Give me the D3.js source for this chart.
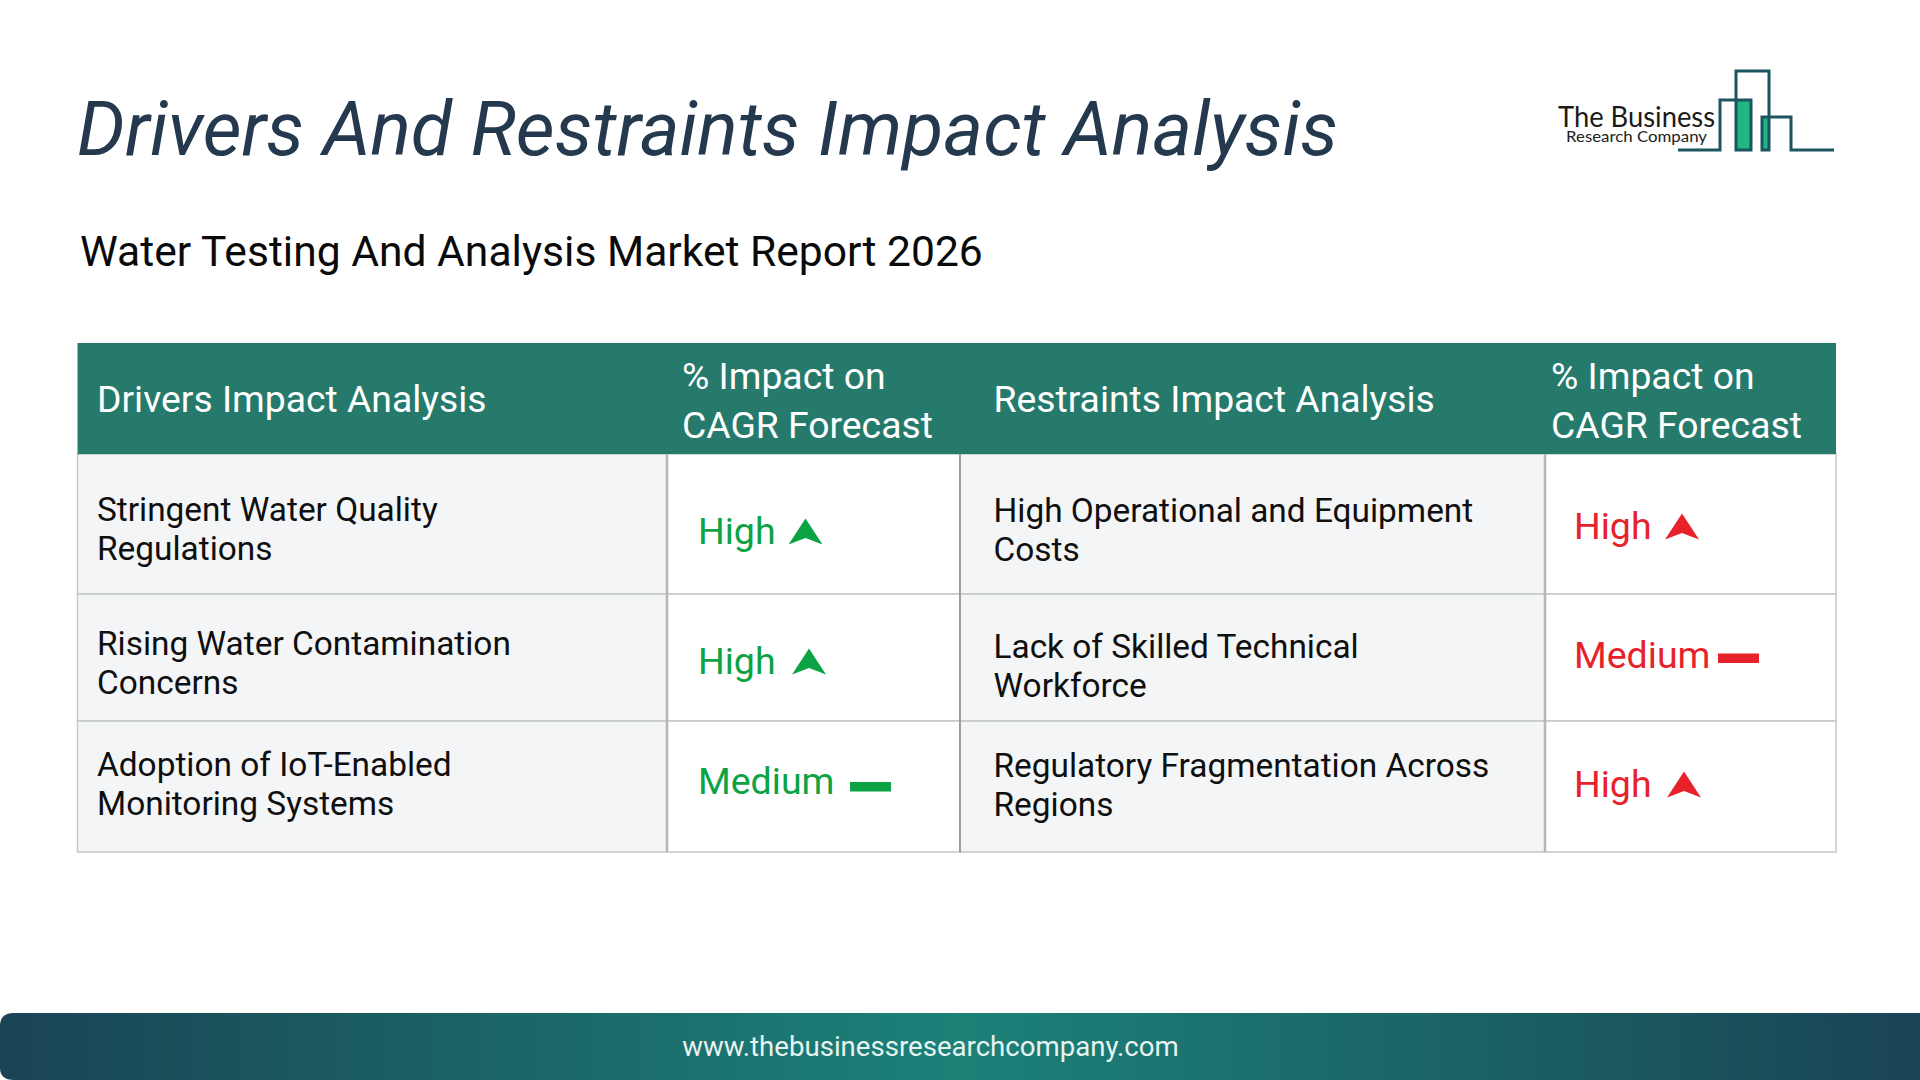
<!DOCTYPE html>
<html>
<head>
<meta charset="utf-8">
<script src="https://cdn.jsdelivr.net/npm/d3@7"></script>
<style>
  html, body { margin: 0; padding: 0; background: #fff; }
  svg { display: block; }
  text { font-family: Roboto, sans-serif; }
</style>
</head>
<body>
<div id="chart"></div>
<script>
// table content
const headers = [["Drivers Impact Analysis"], ["% Impact on", "CAGR Forecast"], ["Restraints Impact Analysis"], ["% Impact on", "CAGR Forecast"]];
const drivers = [["Stringent Water Quality", "Regulations"], ["Rising Water Contamination", "Concerns"], ["Adoption of IoT-Enabled", "Monitoring Systems"]];
const driverImpact = ["High", "High", "Medium"];
const restraints = [["High Operational and Equipment", "Costs"], ["Lack of Skilled Technical", "Workforce"], ["Regulatory Fragmentation Across", "Regions"]];
const restraintImpact = ["High", "Medium", "High"];

// layout
const width = 1920, height = 1080;
const colEdges = [77.5, 667, 960, 1545, 1836];
const rowEdges = [343, 454, 594, 721, 852];
const labelBase = [[521, 655, 776], [522, 658, 777]];
const labelX = [97, 993.5];
const headX = [97, 682, 993.5, 1551];
const impactX = [698, 1574];
const impactBase = [[544, 674, 793.5], [539, 668, 797]];
const arrowX = [[805.5, 809, 0], [1682, 0, 1684]];
const barX = [[0, 0, 850], [0, 1718, 0]];
const barTop = [[0, 0, 782], [0, 653.5, 0]];
const lineGap = 39;

const green = "#0ba344", red = "#e8222b";

const svg = d3.select("#chart").append("svg").attr("width", width).attr("height", height);
const defs = svg.append("defs");
const grad = defs.append("linearGradient").attr("id", "footerGrad");
grad.append("stop").attr("offset", "0%").attr("stop-color", "#1a4454");
grad.append("stop").attr("offset", "50%").attr("stop-color", "#1b8278");
grad.append("stop").attr("offset", "100%").attr("stop-color", "#1a4454");

svg.append("rect").attr("width", width).attr("height", height).attr("fill", "#fff");

// title
svg.append("text").text("Drivers And Restraints Impact Analysis")
  .attr("x", 77).attr("y", 155)
  .style("font-size", "75.5px").style("font-style", "italic").style("fill", "#24394e");
svg.append("text").text("Water Testing And Analysis Market Report 2026")
  .attr("x", 80).attr("y", 266)
  .style("font-size", "42.6px").style("fill", "#0a0a0a");

// logo
const logo = svg.append("g");
const logoColor = "#1c5560";
logo.append("rect").attr("x", 1736).attr("y", 100).attr("width", 15).attr("height", 50).attr("fill", "#22b684");
logo.append("rect").attr("x", 1762).attr("y", 117).attr("width", 7).attr("height", 33).attr("fill", "#22b684");
const logoLine = d3.line();
logo.append("path")
  .attr("d", logoLine([[1678, 150], [1720, 150], [1720, 100], [1751, 100], [1751, 150], [1736, 150], [1736, 71], [1769, 71], [1769, 150], [1762, 150], [1762, 117], [1791, 117], [1791, 150], [1834, 150]]))
  .attr("fill", "none").attr("stroke", logoColor).attr("stroke-width", 3);
logo.append("text").text("The Business").attr("x", 1558).attr("y", 127)
  .style("font-family", "Lato, sans-serif").style("font-weight", 400).style("font-size", "28px").style("fill", "#1a1a1a")
  .attr("textLength", 157).attr("lengthAdjust", "spacingAndGlyphs");
logo.append("text").text("Research Company").attr("x", 1566).attr("y", 142)
  .style("font-family", "Lato, sans-serif").style("font-weight", 400).style("font-size", "15px").style("fill", "#222")
  .attr("textLength", 141).attr("lengthAdjust", "spacingAndGlyphs");

// table body
const cols = d3.range(4), rows = d3.range(3);
const body = svg.append("g");
rows.forEach(r => {
  cols.forEach(c => {
    body.append("rect")
      .attr("x", colEdges[c]).attr("y", rowEdges[r + 1])
      .attr("width", colEdges[c + 1] - colEdges[c])
      .attr("height", rowEdges[r + 2] - rowEdges[r + 1])
      .attr("fill", c % 2 === 0 ? "#f3f5f7" : "#fff")
      .attr("stroke", "#c4c6c8").attr("stroke-width", 1.5);
  });
});
// darker edges on either side of the impact columns
[1, 3].forEach(i => {
  body.append("line").attr("x1", colEdges[i]).attr("x2", colEdges[i])
    .attr("y1", rowEdges[1]).attr("y2", rowEdges[4])
    .attr("stroke", "#b4b6b8").attr("stroke-width", 2.5);
});
body.append("line").attr("x1", colEdges[2]).attr("x2", colEdges[2])
  .attr("y1", rowEdges[1]).attr("y2", rowEdges[4])
  .attr("stroke", "#77797b").attr("stroke-width", 1.2);

// header
svg.append("rect").attr("x", colEdges[0]).attr("y", rowEdges[0])
  .attr("width", colEdges[4] - colEdges[0]).attr("height", rowEdges[1] - rowEdges[0])
  .attr("fill", "#257a6b");
headers.forEach((lines, c) => {
  lines.forEach((t, j) => {
    svg.append("text").text(t)
      .attr("x", headX[c])
      .attr("y", lines.length === 1 ? 412 : 389 + j * 48.5)
      .style("font-size", "37.3px").style("fill", "#fff");
  });
});

// labels
[drivers, restraints].forEach((labels, k) => {
  labels.forEach((lines, r) => {
    lines.forEach((t, j) => {
      svg.append("text").text(t)
        .attr("x", labelX[k]).attr("y", labelBase[k][r] + j * lineGap)
        .style("font-size", "33.4px").style("fill", "#0f0f0f");
    });
  });
});

// impact cells
const arrow = d3.line();
[driverImpact, restraintImpact].forEach((impacts, k) => {
  const color = k === 0 ? green : red;
  impacts.forEach((v, r) => {
    const base = impactBase[k][r];
    svg.append("text").text(v)
      .attr("x", impactX[k]).attr("y", base)
      .style("font-size", "37.5px").style("fill", color);
    if (v === "High") {
      const cx = arrowX[k][r], by = base + 0.5;
      svg.append("path")
        .attr("d", arrow([[cx, by - 26], [cx + 17, by], [cx, by - 6.5], [cx - 17, by]]) + "Z")
        .attr("fill", color);
    } else {
      svg.append("rect").attr("x", barX[k][r]).attr("y", barTop[k][r])
        .attr("width", 41).attr("height", 9.5).attr("fill", color);
    }
  });
});

// footer
svg.append("path")
  .attr("d", `M0,1026 Q0,1013 14,1013 H${width} V${height} H14 Q0,${height} 0,1068 Z`)
  .attr("fill", "url(#footerGrad)");
svg.append("text").text("www.thebusinessresearchcompany.com")
  .attr("x", 930.5).attr("y", 1056).attr("text-anchor", "middle")
  .style("font-size", "27.6px").style("fill", "#e8f2f1");
</script>
</body>
</html>
